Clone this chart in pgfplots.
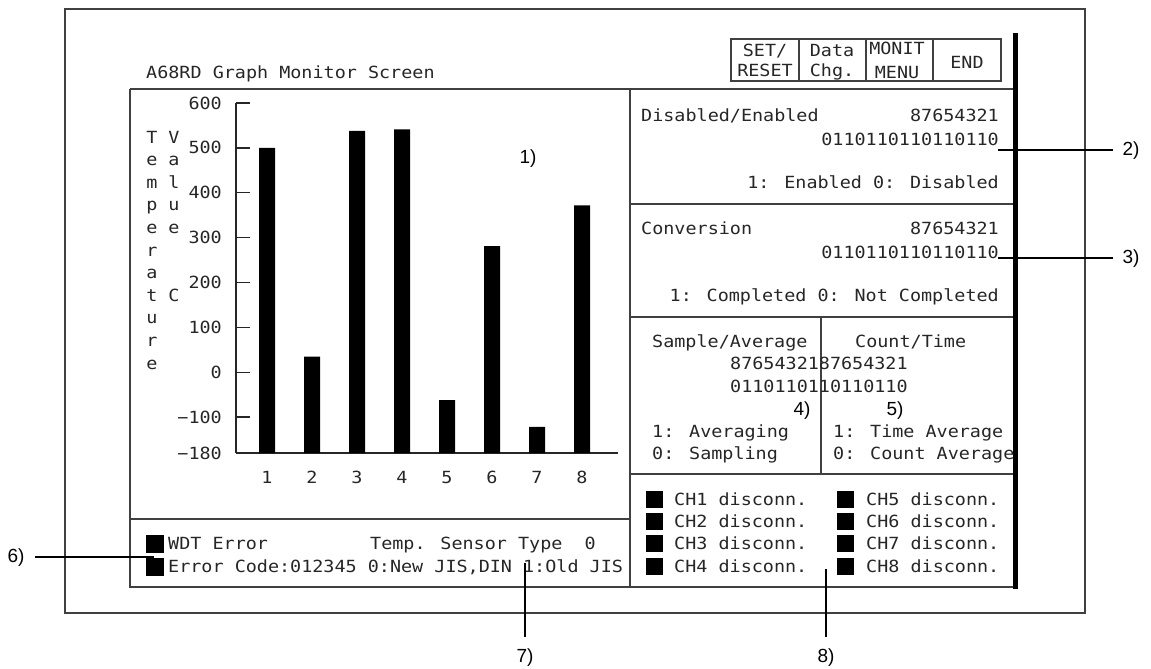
\documentclass[border=0pt]{standalone}
\usepackage{pgfplots}
\pgfplotsset{compat=1.18}
\usepackage{fontspec}
\setmainfont{Liberation Sans}
\newfontfamily\scrfont[FakeStretch=1.1]{DejaVu Sans Mono}
\newcommand\scr{\scrfont\fontsize{16.75pt}{22pt}\selectfont}
\newcommand\lbl{\fontsize{19pt}{21pt}\selectfont}
\begin{document}
\begin{tikzpicture}[x=1pt,y=-1pt,
  st/.style={font=\scr, inner sep=0pt, text height=12.2pt, text depth=0pt, text=black!85},
  ln/.style={line width=1.3pt, draw=black!75},
  lab/.style={font=\lbl, inner sep=0pt, text height=13.7pt, text depth=3.5pt}]
\path[use as bounding box] (0,0) rectangle (1151,669);
% outer frame
\draw[line width=1.5pt, black!75] (65,9) rectangle (1085,613);
% title
\node[st, anchor=west] at (146,72) {A68RD Graph Monitor Screen};
% buttons
\draw[ln] (731,39) rectangle (1001,81);
\draw[ln] (799,39) -- (799,81) (866,39) -- (866,81) (933,39) -- (933,81);
\node[st] at (765,50) {SET/};
\node[st] at (765,70) {RESET};
\node[st] at (832,50) {Data};
\node[st] at (832,70) {Chg.};
\node[st] at (897,48) {MONIT};
\node[st] at (897,72) {MENU};
\node[st] at (967,62) {END};
% screen frame
\draw[ln] (130,89) -- (1013,89);
\draw[ln] (130,89) -- (130,587) -- (1013,587);
\draw[ln] (630,89) -- (630,587);
\draw[ln] (130,519) -- (630,519);
\draw[ln] (630,204) -- (1013,204) (630,317) -- (1013,317) (630,474) -- (1013,474);
\draw[ln] (821,317) -- (821,474);
\draw[line width=5pt, black] (1015.5,33) -- (1015.5,589);
% vertical axis titles
\foreach \c [count=\i from 0] in {T,e,m,p,e,r,a,t,u,r,e}
  \node[st] at (152,{137+22.6*\i}) {\c};
\foreach \c [count=\i from 0] in {V,a,l,u,e}
  \node[st] at (174,{137+22.6*\i}) {\c};
\node[st] at (174,{137+22.6*7}) {C};
% chart
\coordinate (O) at (236,453);
\begin{axis}[at={(O)}, anchor=south west, scale only axis,
  width=382pt, height=350pt,
  xmin=0.311, xmax=8.8, ymin=-180, ymax=600,
  y coord trafo/.code={\pgfmathparse{#1+180}},
  y coord inv trafo/.code={\pgfmathparse{#1-180}},
  axis x line*=bottom, axis y line*=left,
  axis line style={line width=1.3pt, draw=black!85},
  xtick={1,2,3,4,5,6,7,8},
  xticklabels={1,2,3,4,5,6,7,8},
  ytick={-180,-100,0,100,200,300,400,500,600},
  yticklabels={−180,−100,0,100,200,300,400,500,600},
  tick align=inside, major tick length=14pt,
  every tick/.style={line width=1.3pt, black!85},
  xtick style={draw=none},
  ticklabel style={font=\scr, inner sep=0pt, text height=12.2pt, text depth=0pt, text=black!85},
  yticklabel style={anchor=east, xshift=-14pt},
  xticklabel style={anchor=north, yshift=-18pt},
  clip=false]
\addplot[ybar, bar width=16pt, bar shift=0pt, fill=black, draw=none]
  coordinates {(1,500) (2,35) (3,538) (4,541) (5,-62) (6,281) (7,-122) (8,372)};
\end{axis}
\node[lab] at (528,158) {1)};
% bottom-left info
\fill[black] (146,535) rectangle (164,553);
\fill[black] (146,558) rectangle (164,576);
\node[st, anchor=west] at (168,543) {WDT Error};
\node[st, anchor=west] at (370,543) {Temp. Sensor Type\ \ 0};
\node[st, anchor=west] at (168,566) {Error Code:012345 0:New JIS,DIN 1:Old JIS};
% right panel 2)
\node[st, anchor=west] at (641,115) {Disabled/Enabled};
\node[st, anchor=east] at (999,115) {87654321};
\node[st, anchor=east] at (999,139) {0110110110110110};
\node[st, anchor=east] at (999,182) {1: Enabled 0: Disabled};
% 3)
\node[st, anchor=west] at (641,228) {Conversion};
\node[st, anchor=east] at (999,228) {87654321};
\node[st, anchor=east] at (999,252) {0110110110110110};
\node[st, anchor=east] at (999,295) {1: Completed 0: Not Completed};
% 4) 5)
\node[st, anchor=west] at (652,341) {Sample/Average};
\node[st, anchor=west] at (855,341) {Count/Time};
\node[st, anchor=west] at (730,363) {8765432187654321};
\node[st, anchor=west] at (730,386) {0110110110110110};
\node[lab] at (802,410) {4)};
\node[lab] at (895,410) {5)};
\node[st, anchor=west] at (652,431) {1: Averaging};
\node[st, anchor=west] at (652,453) {0: Sampling};
\node[st, anchor=west] at (833,431) {1: Time Average};
\node[st, anchor=west] at (833,453) {0: Count Average};
% 8) channels
\foreach \n/\y in {1/499,2/521.5,3/543.5,4/566} {
  \fill[black] (646,{\y-8.5}) rectangle (663,{\y+8.5});
  \node[st, anchor=west] at (674,\y) {CH\n\ disconn.};
}
\foreach \n/\y in {5/499,6/521.5,7/543.5,8/566} {
  \fill[black] (837,{\y-8.5}) rectangle (854,{\y+8.5});
  \node[st, anchor=west] at (866,\y) {CH\n\ disconn.};
}
% leader lines and labels
\draw[line width=1.5pt] (998,150) -- (1113,150);
\node[lab] at (1131,150) {2)};
\draw[line width=1.5pt] (998,258) -- (1113,258);
\node[lab] at (1131,258) {3)};
\draw[line width=1.5pt] (35,557) -- (154,557);
\node[lab] at (16,557) {6)};
\draw[line width=1.5pt] (525,563) -- (525,637);
\node[lab] at (525,657) {7)};
\draw[line width=1.5pt] (826,569) -- (826,637);
\node[lab] at (826,657) {8)};
\end{tikzpicture}
\end{document}
